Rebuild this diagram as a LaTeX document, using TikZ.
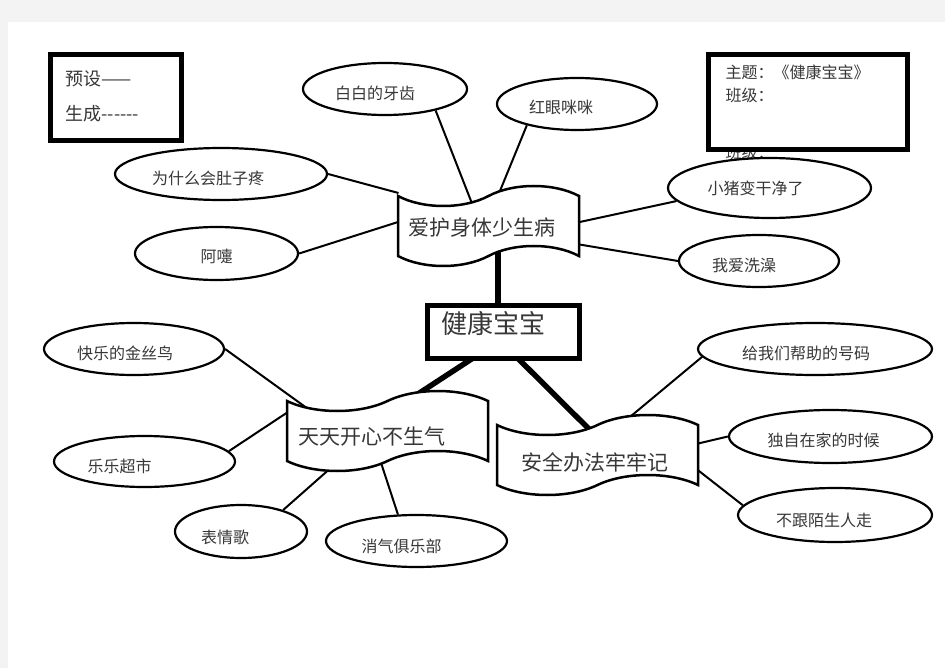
\documentclass[tikz,border=0pt]{standalone}
\usepackage{fontspec}
\setmainfont{Noto Sans CJK SC}
\usetikzlibrary{shapes.geometric,shapes.symbols,calc,backgrounds}
\definecolor{pagegray}{RGB}{243,243,243}
\definecolor{inkgray}{RGB}{55,55,55}
\tikzset{
  bubble/.style 2 args={ellipse, draw, line width=2.2pt, fill=white, inner sep=0pt,
    minimum width=#1pt, minimum height=#2pt},
  bubbletext/.style={text=inkgray, font=\fontsize{16}{19}\selectfont},
  banner/.style={tape, draw, line width=2.5pt, fill=white, inner sep=0pt,
    tape bend height=20pt, minimum width=#1pt, minimum height=80pt},
  bannertext/.style={text=inkgray, font=\fontsize{21}{25}\selectfont},
  framebox/.style={draw, line width=5pt, fill=white, inner sep=0pt},
  twig/.style={line width=2pt},
  trunk/.style={line width=5.5pt}
}
\begin{document}
\begin{tikzpicture}[x=1pt,y=-1pt]
  \useasboundingbox (0,0) rectangle (945,668);

  % corner frames
  \node[framebox, minimum width=131pt, minimum height=86pt] (plan) at (116,97.5) {};
  \node[anchor=west, align=left, text=inkgray, font=\fontsize{18}{35}\selectfont] (plantext) at (62,96.5)
    {预设——\\生成-{}-{}-{}-{}-{}-};
  \node[anchor=west, text=inkgray, font=\fontsize{16}{19}\selectfont] (classhid) at (722,152) {班级：};
  \node[framebox, minimum width=199pt, minimum height=95pt] (theme) at (808,102) {};
  \node[anchor=west, align=left, text=inkgray, font=\fontsize{16}{23}\selectfont] (themetext) at (722,83.5)
    {主题：《健康宝宝》\\班级：};

  % centre
  \node[framebox, minimum width=152pt, minimum height=53pt,
    label={[text=inkgray, font=\fontsize{26}{30}\selectfont, xshift=-10pt, yshift=9pt]center:健康宝宝}] (box) at (503.5,332) {};

  % banners
  \node[banner=181, label={[bannertext, xshift=-7pt, yshift=-2pt]center:爱护身体少生病}] (ban1) at (488.5,226) {};
  \node[banner=201, label={[bannertext, xshift=-16pt, yshift=-6pt]center:天天开心不生气}] (ban2) at (387.5,431) {};
  \node[banner=201, label={[bannertext, xshift=-3pt, yshift=-7pt]center:安全办法牢牢记}] (ban3) at (597.5,455) {};

  % topics
  \node[bubble={164}{52}, label={[bubbletext, xshift=-10pt, yshift=-4pt]center:白白的牙齿}] (bai) at (385,89) {};
  \node[bubble={160}{52}, label={[bubbletext, xshift=-16pt, yshift=-3pt]center:红眼咪咪}] (hong) at (577,104) {};
  \node[bubble={212}{52}, label={[bubbletext, xshift=-13pt, yshift=-4pt]center:为什么会肚子疼}] (wei) at (221,174) {};
  \node[bubble={163}{53}, label={[bubbletext, yshift=-3pt]center:阿嚏}] (aa) at (216.5,253.5) {};
  \node[bubble={203}{60}, label={[bubbletext, xshift=-14pt]center:小猪变干净了}] (xiao) at (769.5,188) {};
  \node[bubble={160}{52}, label={[bubbletext, xshift=-15pt, yshift=-4pt]center:我爱洗澡}] (wo) at (759,261) {};
  \node[bubble={180}{52}, label={[bubbletext, xshift=-9pt, yshift=-4pt]center:快乐的金丝鸟}] (kuai) at (134,349) {};
  \node[bubble={181}{51}, label={[bubbletext, xshift=-25pt, yshift=-5pt]center:乐乐超市}] (le) at (144.5,461.5) {};
  \node[bubble={132}{53}, label={[bubbletext, xshift=-16pt, yshift=-6pt]center:表情歌}] (biao) at (241,531.5) {};
  \node[bubble={181}{52}, label={[bubbletext, xshift=-15pt, yshift=-5pt]center:消气俱乐部}] (xq) at (416.5,541) {};
  \node[bubble={234}{52}, label={[bubbletext, xshift=-9pt, yshift=-4pt]center:给我们帮助的号码}] (gei) at (815,349) {};
  \node[bubble={203}{53}, label={[bubbletext, xshift=-7pt, yshift=-4pt]center:独自在家的时候}] (du) at (830.5,436.5) {};
  \node[bubble={194}{54}, label={[bubbletext, xshift=-11pt, yshift=-5pt]center:不跟陌生人走}] (bu) at (835,515) {};

  \begin{scope}[on background layer]
    \fill[pagegray] (0,0) rectangle (945,668);
    \fill[white] (8,22) rectangle (945,668);
    % trunk lines
    \draw[trunk] ($(ban1)+(9.5,0)$) -- ($(box)+(-5.5,0)$);
    \draw[trunk] ($(box)+(-12,14)$) -- ($(ban2)+(-11,-10)$);
    \draw[trunk] ($(box)+(4,16)$) -- ($(ban3)+(4.5,-13)$);
    % twigs
    \draw[twig] (bai.-23) -- ($(ban1)+(-12,-11)$);
    \draw[twig] (hong.-157) -- ($(ban1)+(0,-7)$);
    \draw[twig] (wei.east) -- ($(ban1)+(-90,-33)$);
    \draw[twig] (aa.east) -- ($(ban1)+(-81,-7)$);
    \draw[twig] (xiao.188) -- ($(ban1)+(82,-2)$);
    \draw[twig] (wo.west) -- ($(ban1)+(82,17)$);
    \draw[twig] (kuai.east) -- ($(ban2)+(-78,-21)$);
    \draw[twig] (le.7) -- ($(ban2)+(-95,-22)$);
    \draw[twig] (biao.27) -- ($(ban2)+(-33,16)$);
    \draw[twig] (xq.125) -- ($(ban2)+(-11,18)$);
    \draw[twig] (gei.184) -- ($(ban3)+(12,-21)$);
    \draw[twig] (du.west) -- ($(ban3)+(90,-9)$);
    \draw[twig] (bu.174) -- ($(ban3)+(90,7)$);
  \end{scope}
\end{tikzpicture}
\end{document}
